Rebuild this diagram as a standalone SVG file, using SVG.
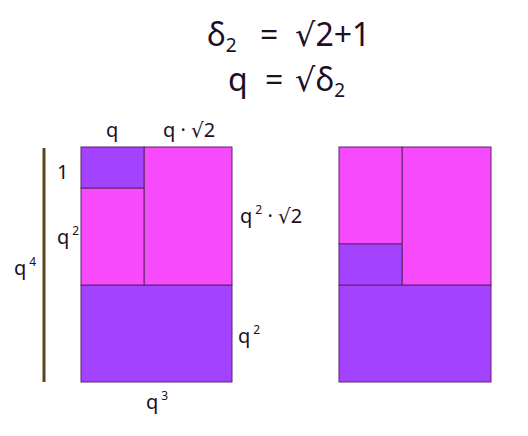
<svg xmlns="http://www.w3.org/2000/svg" width="528" height="436" viewBox="0 0 528 436">
<style>
text{font-family:"Noto Sans","DejaVu Sans",sans-serif;fill:#1c1024}
.t{font-size:32px}
.l{font-size:20px}
.s{font-size:12px}
.ts{font-size:19px}
.pk{fill:#f64afc;stroke:#5a2466;stroke-width:1}
.pu{fill:#a443ff;stroke:#5a2466;stroke-width:1}
</style>
<rect width="528" height="436" fill="#fff"/>
<g id="title">
<text class="t" x="207" y="46">δ<tspan class="ts" dy="6">2</tspan></text>
<text class="t" x="260" y="46">=</text>
<text class="t" x="295" y="46">√2+1</text>
<text class="t" x="228" y="91">q</text>
<text class="t" x="265" y="91">=</text>
<text class="t" x="295" y="91">√δ<tspan class="ts" dy="6">2</tspan></text>
</g>
<g id="left-figure">
<rect id="L-bottom" class="pu" x="81" y="285" width="151" height="97"/>
<rect id="L-right" class="pk" x="144" y="147" width="88" height="138"/>
<rect id="L-mid" class="pk" x="81" y="188" width="63" height="97"/>
<rect id="L-small" class="pu" x="81" y="147" width="63" height="41"/>
</g>
<g id="right-figure">
<rect id="R-bottom" class="pu" x="339" y="285" width="152" height="97"/>
<rect id="R-right" class="pk" x="402" y="147" width="89" height="138"/>
<rect id="R-top" class="pk" x="339" y="147" width="63" height="97"/>
<rect id="R-small" class="pu" x="339" y="244" width="63" height="41"/>
</g>
<g id="connectors">
<line x1="44" y1="148" x2="44" y2="382" stroke="#5c4418" stroke-width="3"/>
</g>
<g id="labels">
<text class="l" x="106" y="137">q</text>
<text class="l" x="163" y="137">q · √2</text>
<text class="l" x="57" y="179">1</text>
<text class="l" x="57" y="244">q<tspan class="s" dx="3" dy="-9">2</tspan></text>
<text class="l" x="14" y="275">q<tspan class="s" dx="3" dy="-9">4</tspan></text>
<text class="l" x="240" y="223">q<tspan class="s" dx="3" dy="-9">2</tspan><tspan dy="9"> · √2</tspan></text>
<text class="l" x="238" y="343">q<tspan class="s" dx="3" dy="-9">2</tspan></text>
<text class="l" x="146" y="409">q<tspan class="s" dx="3" dy="-9">3</tspan></text>
</g>
</svg>
